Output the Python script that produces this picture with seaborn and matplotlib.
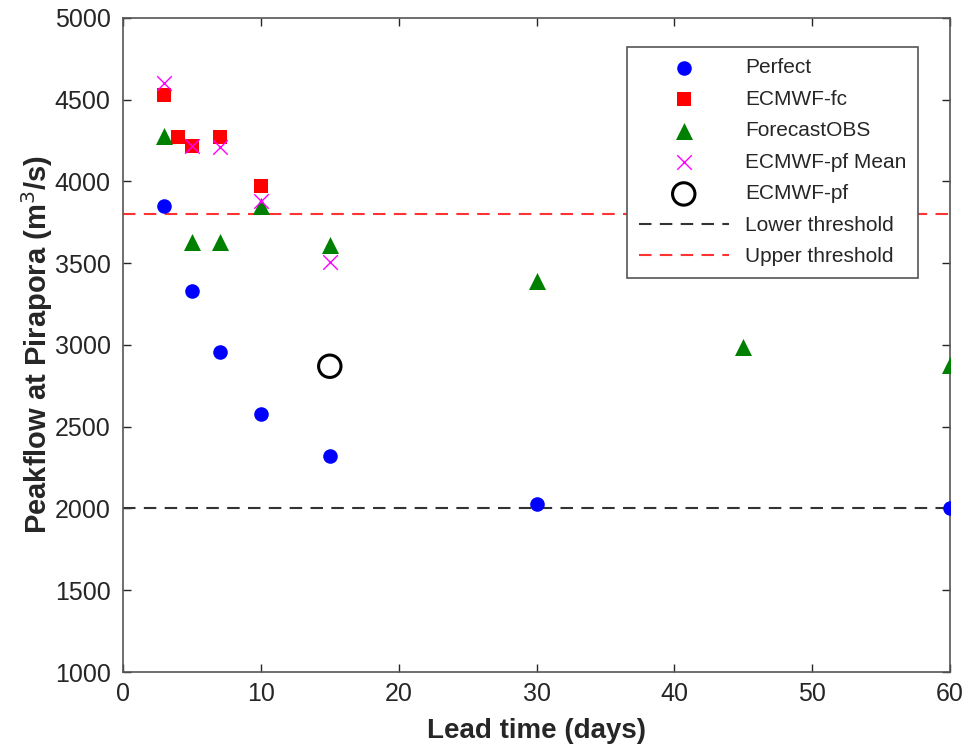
import numpy as np
import matplotlib
matplotlib.use("Agg")
import matplotlib.pyplot as plt
import seaborn as sns

# -----------------------------
# Data
# -----------------------------
perfect_x = [3, 5, 7, 10, 15, 30, 60]
perfect_y = [3850, 3330, 2960, 2580, 2320, 2030, 2005]

fc_x = [3, 4, 5, 7, 10]
fc_y = [4530, 4270, 4220, 4270, 3970]

obs_x = [3, 5, 7, 10, 15, 30, 45, 60]
obs_y = [4280, 3630, 3630, 3850, 3610, 3390, 2990, 2880]

pfmean_x = [3, 5, 7, 10, 15]
pfmean_y = [4600, 4220, 4210, 3880, 3510]

pf_x = [15]
pf_y = [2870]

lower_threshold = 2000
upper_threshold = 3800

# -----------------------------
# Style
# -----------------------------
sns.set_style("ticks")
plt.rcParams["font.family"] = ["Liberation Sans", "DejaVu Sans"]
plt.rcParams["xtick.direction"] = "in"
plt.rcParams["ytick.direction"] = "in"

fig = plt.figure(figsize=(9.65, 7.49), dpi=100)
ax = fig.add_axes([0.1275, 0.1028, 0.857, 0.8732])

sns.scatterplot(x=perfect_x, y=perfect_y, ax=ax, color="blue", marker="o",
                s=110, edgecolor="blue", linewidth=0, label="Perfect", zorder=3)
sns.scatterplot(x=fc_x, y=fc_y, ax=ax, color="red", marker="s",
                s=110, edgecolor="red", linewidth=0, label="ECMWF-fc", zorder=3)
sns.scatterplot(x=obs_x, y=obs_y, ax=ax, color="green", marker="^",
                s=150, edgecolor="green", linewidth=0, label="ForecastOBS", zorder=4)
sns.scatterplot(x=pfmean_x, y=pfmean_y, ax=ax, color="magenta", marker="x",
                s=110, linewidth=1.0, label="ECMWF-pf Mean", zorder=5)
sns.scatterplot(x=pf_x, y=pf_y, ax=ax, facecolor="none", marker="o",
                s=260, edgecolor="black", linewidth=2.2, label="ECMWF-pf", zorder=4)

ax.axhline(lower_threshold, color="#333333", linestyle=(0, (6, 4)), linewidth=1.5,
           label="Lower threshold", zorder=1)
ax.axhline(upper_threshold, color="#ff3333", linestyle=(0, (6, 4)), linewidth=1.5,
           label="Upper threshold", zorder=1)

ax.set_xlim(0, 60)
ax.set_ylim(1000, 5000)
ax.set_xticks(np.arange(0, 61, 10))
ax.set_yticks(np.arange(1000, 5001, 500))
ax.tick_params(axis="both", labelsize=18, colors="#262626", length=6, width=1,
               top=True, right=True)
ax.tick_params(axis="y", pad=9)
ax.tick_params(axis="x", pad=7)
for sp in ax.spines.values():
    sp.set_visible(True)
    sp.set_color("#555555")
    sp.set_linewidth(1.2)

ax.set_xlabel("Lead time (days)", fontsize=20, fontweight="bold", labelpad=9)
ax.set_ylabel("Peakflow at Pirapora (m$^3$/s)", fontsize=21, fontweight="bold", labelpad=0)

leg = ax.legend(loc="upper right", bbox_to_anchor=(0.9613, 0.9557), borderaxespad=0,
                fontsize=15, frameon=True, fancybox=False, edgecolor="#555555",
                framealpha=1, handlelength=4.3, borderpad=0.55, labelspacing=0.6)
leg.get_frame().set_linewidth(1.2)

fig.savefig("out.png", dpi=100)
